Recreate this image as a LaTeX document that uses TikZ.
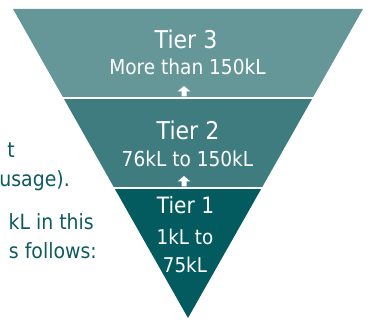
\documentclass[tikz,border=0pt]{standalone}
\usepackage{fontspec}
\setmainfont[FakeStretch=0.9]{DejaVu Sans}
\definecolor{tierthree}{HTML}{659799}
\definecolor{tiertwo}{HTML}{3E7C80}
\definecolor{tierone}{HTML}{035B60}
\definecolor{bodytext}{HTML}{0D5B5F}
\tikzset{
  tiertitle/.style={text=white, font=\fontsize{24.5}{28}\selectfont, anchor=base, inner sep=0pt},
  tiersub/.style={text=white, font=\fontsize{20.6}{24}\selectfont, anchor=base, inner sep=0pt},
  sidetext/.style={text=bodytext, font=\fontsize{21}{24}\selectfont, anchor=base east, inner sep=0pt},
  uparrow/.style={fill=white, draw=none}
}
\begin{document}
\begin{tikzpicture}[x=1pt,y=-1pt]
\useasboundingbox (0,0) rectangle (370,320);
\clip (0,0) rectangle (370,320);
% bands
\fill[tierthree] (13,9) -- (363,9) -- (312.6,98) -- (63.4,98) -- cycle;
\fill[tiertwo] (63.4,98) -- (312.6,98) -- (261.7,188) -- (114.3,188) -- cycle;
\fill[tierone] (114.3,188) -- (261.7,188) -- (188,318) -- cycle;
\draw[white, line width=1.6pt] (60,98) -- (316,98);
\draw[white, line width=1.6pt] (110,188) -- (266,188);
% arrows
\fill[uparrow] (184,86) -- (190.5,91.5) -- (186.5,91.5) -- (186.5,96.5) -- (181.5,96.5) -- (181.5,91.5) -- (177.5,91.5) -- cycle;
\fill[uparrow] (184,176) -- (190.5,181.5) -- (186.5,181.5) -- (186.5,186.5) -- (181.5,186.5) -- (181.5,181.5) -- (177.5,181.5) -- cycle;
% texts
\node[tiertitle] (t3) at (186,48.5) {Tier 3};
\node[tiersub] (s3) at (187.5,75) {More than 150kL};
\node[tiertitle] (t2) at (188,139.5) {Tier 2};
\node[tiersub] (s2) at (187.5,167) {76kL to 150kL};
\node[tiertitle, font=\fontsize{22.5}{26}\selectfont] (t1) at (185.5,214) {Tier 1};
\node[tiersub, font=\fontsize{20.3}{24}\selectfont] (s1a) at (185,245) {1kL to};
\node[tiersub, font=\fontsize{20.3}{24}\selectfont] (s1b) at (185,273) {75kL};
% side text
\node[sidetext] (l1) at (15,158) {t};
\node[sidetext] (l2) at (70,187) {usage).};
\node[sidetext] (l3) at (94,230) {kL in this};
\node[sidetext] (l4) at (97,259) {s follows:};
\end{tikzpicture}
\end{document}
